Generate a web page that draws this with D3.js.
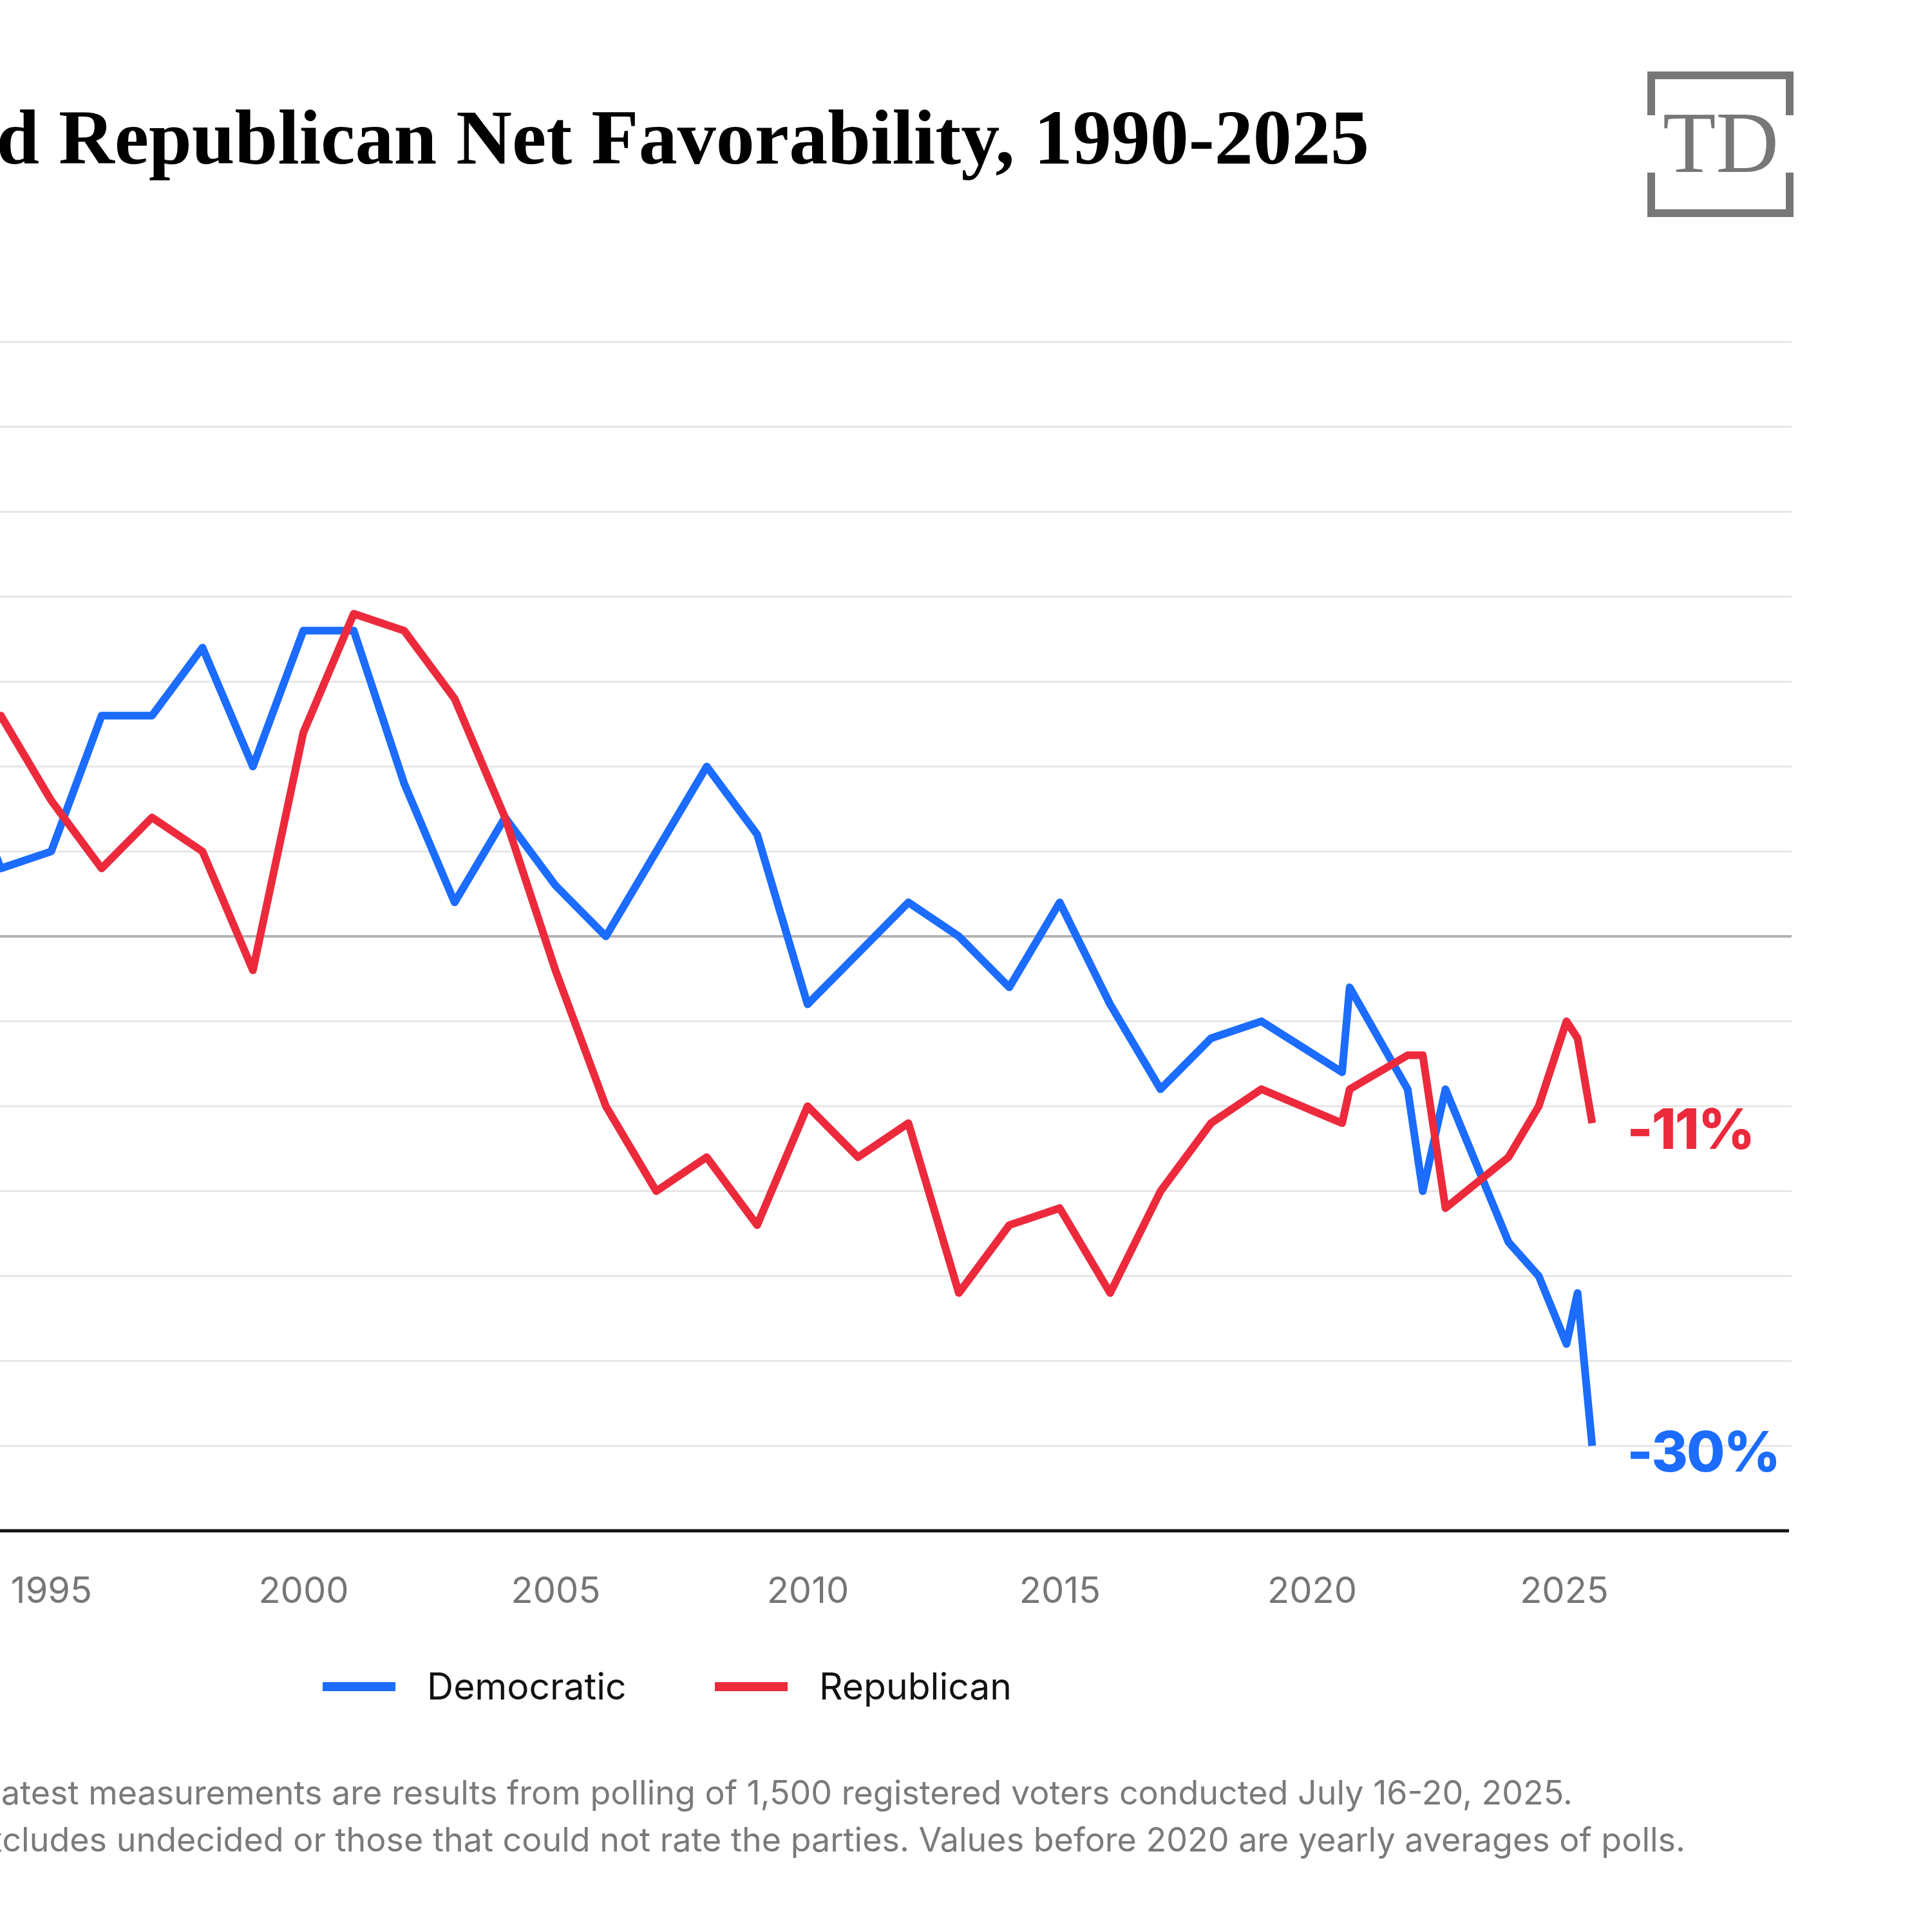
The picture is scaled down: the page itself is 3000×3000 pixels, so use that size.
<!DOCTYPE html>
<html>
<head>
<meta charset="utf-8">
<script src="https://cdn.jsdelivr.net/npm/d3@7"></script>
<style>
  body { margin: 0; background: #fff; }
  svg { display: block; }
</style>
</head>
<body>
<div class="chart"></div>
<script>
// yearly averages up to 2019, single polls after that
const years = [1993, 1994, 1995, 1996, 1997, 1998, 1999, 2000, 2001, 2002, 2003, 2004, 2005, 2006, 2007, 2008, 2009,
  2010, 2011, 2012, 2013, 2014, 2015, 2016, 2017, 2018, 2019,
  2020.6, 2020.75, 2021.9, 2022.2, 2022.65, 2023.9, 2024.5, 2025.05, 2025.27, 2025.56];

const democratic = [12, 4, 5, 13, 13, 17, 10, 18, 18, 9, 2, 7, 3, 0, 5, 10, 6,
  -4, -1, 2, 0, -3, 2, -4, -9, -6, -5,
  -8, -3, -9, -15, -9, -18, -20, -24, -21, -30];

const republican = [9, 13, 8, 4, 7, 5, -2, 12, 19, 18, 14, 7, -2, -10, -15, -13, -17,
  -10, -13, -11, -21, -17, -16, -21, -15, -11, -9,
  -11, -9, -7, -7, -16, -13, -10, -5, -6, -11];

const seriesNames = ["Democratic", "Republican"];
const tickYears = [1995, 2000, 2005, 2010, 2015, 2020, 2025];
const gridValues = [-35, -30, -25, -20, -15, -10, -5, 0, 5, 10, 15, 20, 25, 30, 35];

const titleText = "Democratic and Republican Net Favorability, 1990-2025";
const noteLines = [
  "Note: Latest measurements are results from polling of 1,500 registered voters conducted July 16-20, 2025.",
  "Net favorability excludes undecided or those that could not rate the parties. Values before 2020 are yearly averages of polls."
];

const BLUE = "#1b6cff";
const RED = "#ec2a3c";
const colors = [BLUE, RED];

var width = 3000, height = 3000;

var svg = d3.select(".chart")
  .append("svg")
  .attr("width", width)
  .attr("height", height);

// the picture is a crop, the left part of the plot runs off the page
var x = d3.scaleLinear().domain([1990, 2030]).range([-312, 2820]);
var y = d3.scaleLinear().domain([-35, 35]).range([2377, 531]);
var plotRight = 2782;

// gridlines
svg.append("g")
  .selectAll("line")
  .data(gridValues.filter(v => v !== -35))
  .enter().append("line")
  .attr("x1", x(1990)).attr("x2", plotRight)
  .attr("y1", d => y(d)).attr("y2", d => y(d))
  .attr("stroke", d => d === 0 ? "#b3b3b3" : "#e6e6e6")
  .attr("stroke-width", d => d === 0 ? 4 : 3);

// x axis
var xAxis = d3.axisBottom(x)
  .tickValues(tickYears)
  .tickSize(0)
  .tickPadding(72)
  .tickFormat(d3.format("d"));

var gx = svg.append("g")
  .attr("transform", "translate(0," + y(-35) + ")")
  .call(xAxis);
gx.select(".domain").remove();
gx.selectAll("text")
  .attr("fill", "#767676")
  .style("font-family", "Inter")
  .style("font-size", "56px");

svg.append("line")
  .attr("x1", x(1990)).attr("x2", plotRight - 4)
  .attr("y1", y(-35)).attr("y2", y(-35))
  .attr("stroke", "#111")
  .attr("stroke-width", 5);

// lines
var line = d3.line()
  .x((d, i) => x(years[i]))
  .y(d => y(d));

[democratic, republican].forEach((s, k) => {
  svg.append("path")
    .datum(s)
    .attr("fill", "none")
    .attr("stroke", colors[k])
    .attr("stroke-width", 12)
    .attr("stroke-linejoin", "round")
    .attr("d", line);

  var last = s[s.length - 1];
  svg.append("text")
    .attr("x", x(years[years.length - 1]) + 54)
    .attr("y", y(last) + 40)
    .attr("fill", colors[k])
    .style("font-family", "Inter")
    .style("font-weight", "800")
    .style("font-size", "86px")
    .style("letter-spacing", "-2px")
    .text(last + "%");
});

// legend
var legend = svg.append("g")
  .selectAll("g")
  .data(seriesNames)
  .enter().append("g")
  .attr("transform", (d, i) => "translate(" + (501 + i * 609) + ",2619)");
legend.append("rect")
  .attr("x", 0).attr("y", -7)
  .attr("width", 113).attr("height", 14)
  .attr("fill", (d, i) => colors[i]);
legend.append("text")
  .attr("x", 162).attr("y", 20)
  .attr("fill", "#111")
  .style("font-family", "Inter")
  .style("font-size", "57px")
  .text(d => d);

// notes, left side is cut off so anchor them on the right
var noteEnds = [2442, 2617];
svg.append("g")
  .selectAll("text")
  .data(noteLines)
  .enter().append("text")
  .attr("x", (d, i) => noteEnds[i])
  .attr("y", (d, i) => 2802 + i * 73)
  .attr("text-anchor", "end")
  .attr("fill", "#7a7a7a")
  .style("font-family", "Inter")
  .style("font-size", "52px")
  .text(d => d);

// title, squeezed to match the condensed serif
var probe = svg.append("text")
  .style("font-family", "Liberation Serif")
  .style("font-weight", "700")
  .style("font-size", "120px")
  .text("d Republican Net Favorability, 1990-2025");
var visibleW = probe.node().getComputedTextLength();
probe.remove();
var sx = 2132 / visibleW;

svg.append("text")
  .attr("transform", "translate(2126,254) scale(" + sx + ",1)")
  .attr("text-anchor", "end")
  .attr("fill", "#000")
  .style("font-family", "Liberation Serif")
  .style("font-weight", "700")
  .style("font-size", "120px")
  .text(titleText);

// TD logo
var logo = svg.append("g").attr("fill", "none").attr("stroke", "#777").attr("stroke-width", 12);
logo.append("path").attr("d", "M2564,179 V117 H2779 V179");
logo.append("path").attr("d", "M2564,268 V331 H2779 V268");
svg.append("text")
  .attr("x", 2672).attr("y", 267)
  .attr("text-anchor", "middle")
  .attr("fill", "#777")
  .style("font-family", "Liberation Serif")
  .style("font-size", "135px")
  .text("TD");
</script>
</body>
</html>
